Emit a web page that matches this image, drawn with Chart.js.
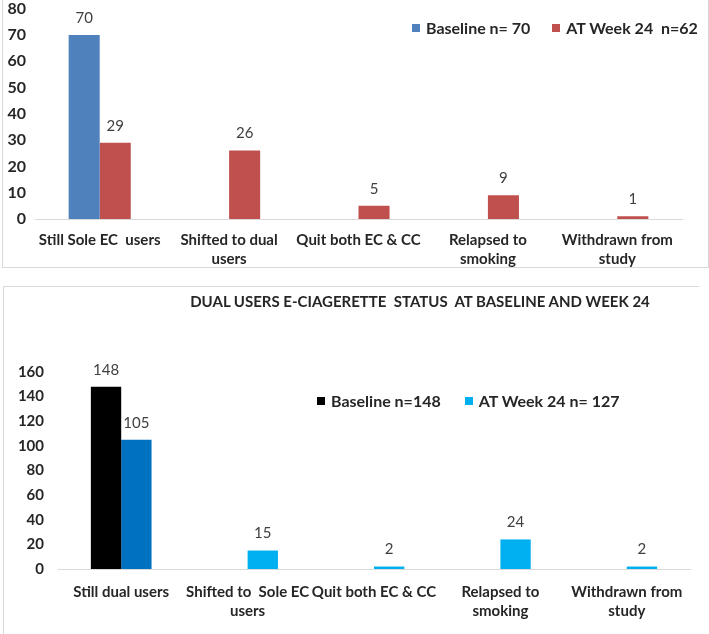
<!DOCTYPE html>
<html>
<head>
<meta charset="utf-8">
<script src="https://cdn.jsdelivr.net/npm/chart.js@4.4.1/dist/chart.umd.min.js"></script>
<style>
  body { margin: 0; background: #fff; font-family: Lato, sans-serif; }
  #page { position: relative; width: 709px; height: 634px; overflow: hidden; }
  .box { position: absolute; box-sizing: border-box; border: 0 solid #d9d9d9; }
  canvas { position: absolute; left: 0; }
  .legend { position: absolute; font: bold 16px Lato, sans-serif; color: #262626; white-space: nowrap; }
  .legend span.sw { display: inline-block; width: 8px; height: 8px; margin-right: 6px; vertical-align: 2px; }
  #title { position: absolute; top: 292px; left: 0; width: 840px; text-align: center; font: bold 15px Lato, sans-serif; color: #262626; white-space: pre; }
</style>
</head>
<body>
<div id="page">
  <div class="box" style="left:2px; top:0; width:707px; height:268px; border-left-width:1px; border-right-width:1px; border-bottom-width:1px;"></div>
  <div class="box" style="left:3px; top:286px; width:696px; height:360px; border-left-width:1px; border-top-width:1px;"></div>

  <canvas id="topChart" width="709" height="285" style="top:-10px"></canvas>
  <canvas id="bottomChart" width="709" height="348" style="top:286px"></canvas>

  <div class="legend" style="left:412px; top:18px;">
    <span style="margin-right:22px"><span class="sw" style="background:#4f81bd"></span>Baseline n= 70</span><span><span class="sw" style="background:#c0504d"></span>AT Week 24&nbsp; n=62</span>
  </div>
  <div id="title">DUAL USERS E-CIAGERETTE  STATUS  AT BASELINE AND WEEK 24</div>
  <div class="legend" style="left:317px; top:391px;">
    <span style="margin-right:24px"><span class="sw" style="background:#000"></span>Baseline n=148</span><span><span class="sw" style="background:#00b0f0"></span>AT Week 24 n= 127</span>
  </div>
</div>

<script>
// top chart: sole EC users
const soleCategories = ['Still Sole EC  users', ['Shifted to dual', 'users'], 'Quit both EC & CC', ['Relapsed to', 'smoking'], ['Withdrawn from', 'study']];
const soleBaseline = [70, null, null, null, null];
const soleWeek24 = [29, 26, 5, 9, 1];
const soleTicks = [0, 10, 20, 30, 40, 50, 60, 70, 80];

// bottom chart: dual users
const dualCategories = ['Still dual users', ['Shifted to  Sole EC', 'users'], 'Quit both EC & CC', ['Relapsed to', 'smoking'], ['Withdrawn from', 'study']];
const dualBaseline = [148, null, null, null, null];
const dualWeek24 = [105, 15, 2, 24, 2];
const dualTicks = [0, 20, 40, 60, 80, 100, 120, 140, 160];

// draws the numbers above each bar
const valueLabels = {
    id: 'valueLabels',
    afterDatasetsDraw(chart) {
        const ctx = chart.ctx;
        ctx.save();
        ctx.font = '15px Lato';
        ctx.fillStyle = '#404040';
        ctx.textAlign = 'center';
        ctx.textBaseline = 'middle';
        chart.data.datasets.forEach((ds, i) => {
            chart.getDatasetMeta(i).data.forEach((bar, j) => {
                const v = ds.data[j];
                if (v === null) return;
                ctx.fillText(v, bar.x, bar.y - 17);
            });
        });
        ctx.restore();
    }
};

function makeChart(id, cfg) {
    return new Chart(document.getElementById(id), {
        type: 'bar',
        data: {
            labels: cfg.labels,
            datasets: cfg.datasets.map(d => Object.assign({
                categoryPercentage: 0.48,
                barPercentage: 1,
                borderWidth: 0
            }, d))
        },
        options: {
            responsive: false,
            animation: false,
            devicePixelRatio: 1,
            layout: { padding: cfg.padding },
            plugins: { legend: { display: false }, tooltip: { enabled: false } },
            scales: {
                x: {
                    grid: { display: false },
                    border: { display: true, color: '#d9d9d9', width: 1 },
                    ticks: {
                        maxRotation: 0,
                        autoSkip: false,
                        padding: cfg.xPad,
                        color: '#262626',
                        font: { family: 'Lato', size: 15, weight: 'bold', lineHeight: 1.3 }
                    },
                    afterFit: s => { s.height = cfg.xHeight; }
                },
                y: {
                    min: cfg.ticks[0],
                    max: cfg.ticks[cfg.ticks.length - 1],
                    afterBuildTicks: s => { s.ticks = cfg.ticks.map(v => ({ value: v })); },
                    grid: { display: false, drawTicks: false },
                    border: { display: false },
                    ticks: {
                        padding: cfg.yPad,
                        color: '#262626',
                        font: { family: 'Lato', size: cfg.ySize, weight: 'bold' }
                    },
                    afterFit: s => { s.width = cfg.yWidth; }
                }
            }
        },
        plugins: [valueLabels]
    });
}

makeChart('topChart', {
    labels: soleCategories,
    datasets: [
        { label: 'Baseline n= 70', data: soleBaseline, backgroundColor: '#4f81bd' },
        { label: 'AT Week 24  n=62', data: soleWeek24, backgroundColor: '#c0504d' }
    ],
    ticks: soleTicks,
    padding: { top: 0, right: 27, left: 0, bottom: 0 },
    xHeight: 56, xPad: 3,
    yWidth: 35, yPad: 9, ySize: 16
});

makeChart('bottomChart', {
    labels: dualCategories,
    datasets: [
        { label: 'Baseline n=148', data: dualBaseline, backgroundColor: '#000000' },
        { label: 'AT Week 24 n= 127', data: dualWeek24,
          backgroundColor: ['#0070c0', '#00b0f0', '#00b0f0', '#00b0f0', '#00b0f0'] }
    ],
    ticks: dualTicks,
    padding: { top: 86, right: 19, left: 0, bottom: 0 },
    xHeight: 65, xPad: 5,
    yWidth: 58, yPad: 14, ySize: 15
});
</script>
</body>
</html>
